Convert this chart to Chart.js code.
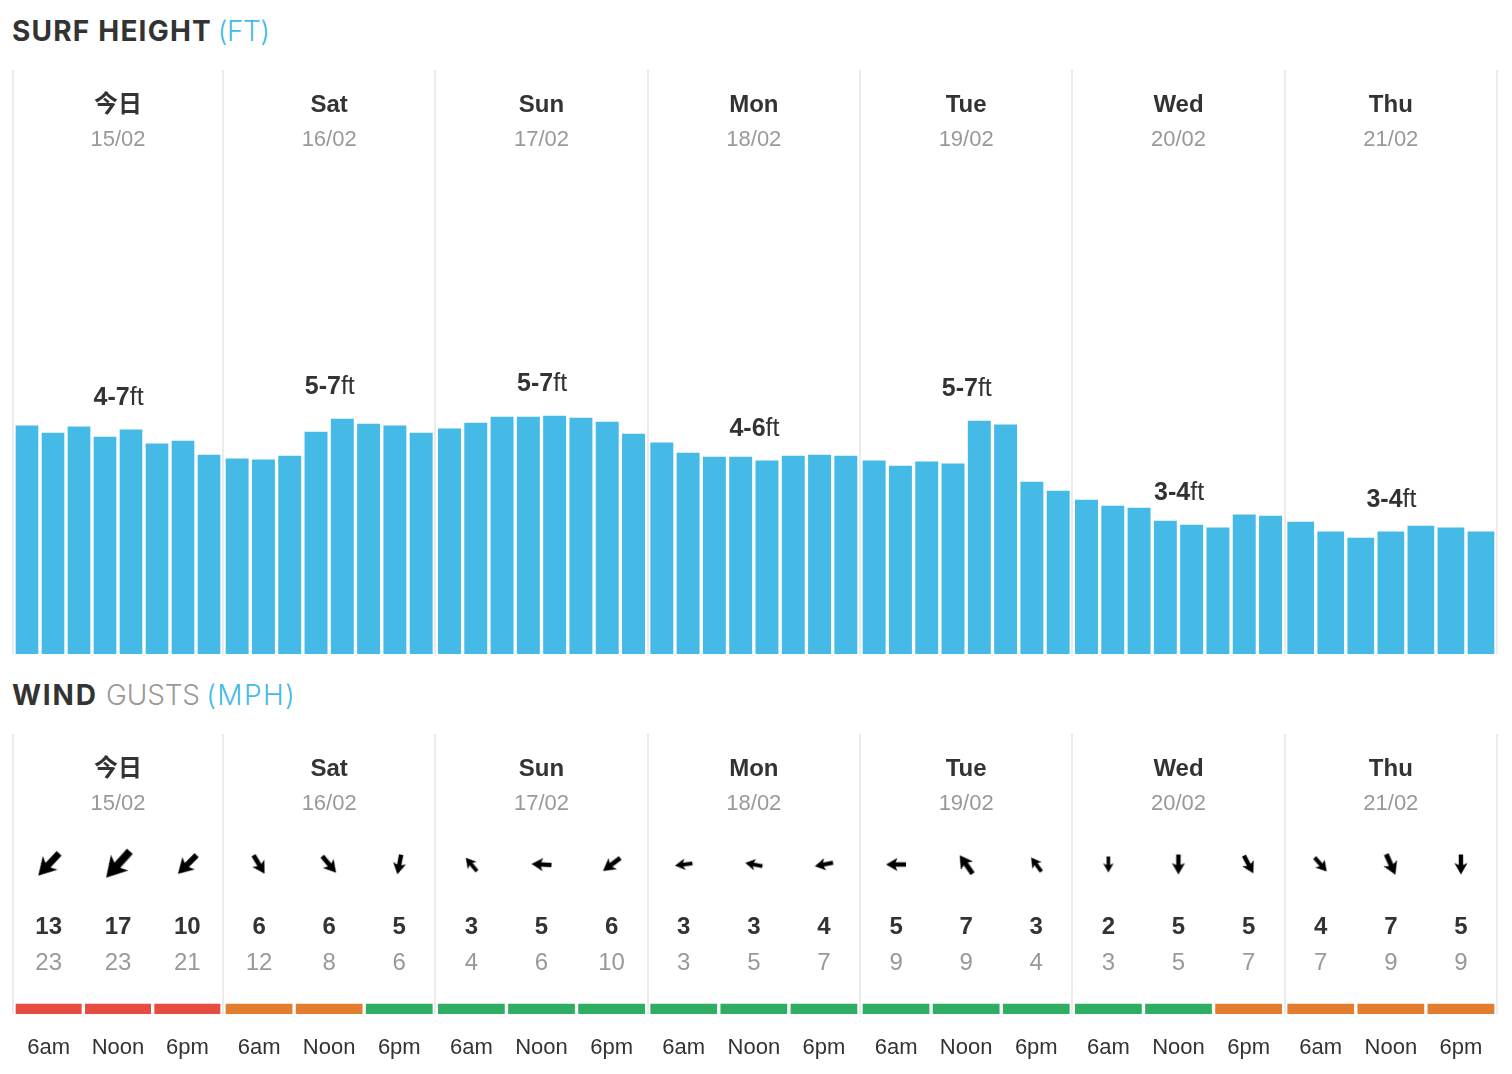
<!DOCTYPE html>
<html>
<head>
<meta charset="utf-8">
<title>Surf forecast</title>
<script src="https://cdn.jsdelivr.net/npm/chart.js@4/dist/chart.umd.min.js"></script>
<style>
    html, body { margin: 0; padding: 0; background: #fff; overflow: hidden; }
    .heading { position: absolute; margin: 0; font: 700 28px/34px Inter, sans-serif; color: #333; white-space: nowrap; letter-spacing: 1.2px; }
    .heading .light { font-weight: 300; color: #999; letter-spacing: -0.2px; }
    .heading .unit { font-weight: 300; color: #45bae6; letter-spacing: -0.5px; margin-left: -2px; }
    #surfHeading { left: 12px; top: 14px; }
    #windHeading { left: 12px; top: 678px; letter-spacing: 1.8px; }
    #windHeading .unit { letter-spacing: 1.4px; margin-left: -2px; }
    canvas { position: absolute; left: 0; }
    #surfChart { top: 70px; }
    #windChart { top: 734px; }
</style>
</head>
<body>
<h2 class="heading" id="surfHeading">SURF HEIGHT <span class="unit">(FT)</span></h2>
<canvas id="surfChart" width="1512" height="585"></canvas>
<h2 class="heading" id="windHeading">WIND <span class="light">GUSTS</span> <span class="unit">(MPH)</span></h2>
<canvas id="windChart" width="1512" height="340"></canvas>

<script>
var dayNames = ['今日', 'Sat', 'Sun', 'Mon', 'Tue', 'Wed', 'Thu'];
var dayDates = ['15/02', '16/02', '17/02', '18/02', '19/02', '20/02', '21/02'];
var surfRanges = ['4-7', '5-7', '5-7', '4-6', '5-7', '3-4', '3-4'];

var surfFri = [6.71, 6.5, 6.68, 6.38, 6.59, 6.18, 6.26, 5.85];
var surfSat = [5.74, 5.71, 5.82, 6.53, 6.91, 6.76, 6.71, 6.5];
var surfSun = [6.62, 6.79, 6.97, 6.97, 7.0, 6.94, 6.82, 6.47];
var surfMon = [6.21, 5.91, 5.79, 5.79, 5.68, 5.82, 5.85, 5.82];
var surfTue = [5.68, 5.53, 5.65, 5.59, 6.85, 6.74, 5.06, 4.79];
var surfWed = [4.53, 4.35, 4.29, 3.91, 3.79, 3.71, 4.09, 4.06];
var surfThu = [3.88, 3.59, 3.41, 3.59, 3.76, 3.71, 3.59];

var slotLabels = ['6am', 'Noon', '6pm'];
var windSpeed = [13, 17, 10, 6, 6, 5, 3, 5, 6, 3, 3, 4, 5, 7, 3, 2, 5, 5, 4, 7, 5];
var windGust = [23, 23, 21, 12, 8, 6, 4, 6, 10, 3, 5, 7, 9, 9, 4, 3, 5, 7, 7, 9, 9];
var windBearing = [223, 222, 225, 149, 140, 191, 320, 273, 233, 263, 281, 259, 270, 325, 324, 180, 180, 152, 139, 156, 180];
var windRating = ['poor', 'poor', 'poor', 'fair', 'fair', 'good', 'good', 'good', 'good', 'good', 'good', 'good',
    'good', 'good', 'good', 'good', 'good', 'fair', 'fair', 'fair', 'fair'];

var ratingColors = { poor: '#e74c43', fair: '#e27d2f', good: '#2fae63' };
var textDark = '#333333';
var textGrey = '#999999';
var barBlue = '#45bae6';
var fontFamily = '"Liberation Sans", "Noto Sans CJK SC", sans-serif';

// the x scale counts days, the first column is a touch narrower than the rest
var firstDayStart = 0.011;
var lastDayEnd = 7;
var dayPx = 1484 / (lastDayEnd - firstDayStart);
var barGapPx = 4;

function dayCentre(day) {
    return (Math.max(day, firstDayStart) + day + 1) / 2;
}

function slotPitch(day, count) {
    return (day + 1 - Math.max(day, firstDayStart) - 2 / dayPx) / count;
}

function slotCentres(day, count) {
    var pitch = slotPitch(day, count);
    var list = [];
    for (var i = 0; i < count; i++) {
        list.push(dayCentre(day) + (i - (count - 1) / 2) * pitch);
    }
    return list;
}

function barWidth(day, count) {
    return slotPitch(day, count) * dayPx - barGapPx;
}

function dayBoundaries() {
    var list = [firstDayStart];
    for (var d = 1; d <= lastDayEnd; d++) list.push(d);
    return list;
}

function xScale(extra) {
    return Object.assign({
        type: 'linear',
        min: firstDayStart,
        max: lastDayEnd,
        offset: false,
        grid: { display: false, offset: false },
        border: { display: false }
    }, extra);
}

// second x axis, only there to draw the column separators
function dayAxis() {
    return {
        axis: 'x',
        type: 'linear',
        position: 'top',
        min: firstDayStart,
        max: lastDayEnd,
        offset: false,
        afterBuildTicks: function(axis) {
            axis.ticks = dayBoundaries().map(function(v) { return { value: v }; });
        },
        ticks: { display: false },
        border: { display: false },
        grid: { color: '#ebebeb', lineWidth: 2, drawTicks: false, offset: false }
    };
}

function drawDayHeaders(chart) {
    var ctx = chart.ctx;
    var x = chart.scales.x;
    var top = chart.chartArea.top;
    ctx.save();
    ctx.textAlign = 'center';
    ctx.textBaseline = 'alphabetic';
    dayNames.forEach(function(name, d) {
        var px = x.getPixelForValue(dayCentre(d));
        ctx.font = 'bold 24px ' + fontFamily;
        ctx.fillStyle = textDark;
        ctx.fillText(name, px, top + 42);
        ctx.font = '22px ' + fontFamily;
        ctx.fillStyle = textGrey;
        ctx.fillText(dayDates[d], px, top + 76);
    });
    ctx.restore();
}

/* surf chart */
var surfByDay = [surfFri, surfSat, surfSun, surfMon, surfTue, surfWed, surfThu];

var surfDatasets = surfByDay.map(function(values, d) {
    var centres = slotCentres(d, values.length);
    return {
        data: values.map(function(v, i) { return { x: centres[i], y: v }; }),
        backgroundColor: barBlue,
        barThickness: barWidth(d, values.length),
        grouped: false
    };
});

var surfLabelsPlugin = {
    id: 'surfLabels',
    afterDatasetsDraw: function(chart) {
        drawDayHeaders(chart);
        var ctx = chart.ctx;
        var x = chart.scales.x;
        var y = chart.scales.y;
        ctx.save();
        ctx.textBaseline = 'alphabetic';
        ctx.fillStyle = textDark;
        surfRanges.forEach(function(range, d) {
            var values = surfByDay[d];
            var anchor = values[Math.floor(values.length / 2)];
            var baseline = y.getPixelForValue(anchor) - 25;
            ctx.font = 'bold 25px ' + fontFamily;
            var w1 = ctx.measureText(range).width;
            var w2 = ctx.measureText('ft').width;
            var start = x.getPixelForValue(dayCentre(d)) + 2 - (w1 + w2) / 2;
            ctx.textAlign = 'left';
            ctx.fillText(range, start, baseline);
            ctx.font = '25px ' + fontFamily;
            ctx.fillText('ft', start + w1, baseline);
        });
        ctx.restore();
    }
};

new Chart(document.getElementById('surfChart'), {
    type: 'bar',
    data: { datasets: surfDatasets },
    options: {
        responsive: false,
        animation: false,
        layout: { padding: { left: 13, right: 15, top: 0, bottom: 1 } },
        plugins: { legend: { display: false }, tooltip: { enabled: false } },
        scales: {
            x: xScale({ display: false }),
            days: dayAxis(),
            y: { display: false, min: 0, max: 584 / 34 }
        }
    },
    plugins: [surfLabelsPlugin]
});

/* wind chart */
// rows of the panel in y-scale units, a strip is one unit tall
var arrowRow = 14.95;
var speedRow = 8;
var gustRow = 4.4;
var stripHeight = 1;

var windCentres = [];
var stripDatasets = dayNames.map(function(name, d) {
    var count = slotLabels.length;
    var centres = slotCentres(d, count);
    var ratings = windRating.slice(windCentres.length, windCentres.length + count);
    windCentres = windCentres.concat(centres);
    return {
        data: centres.map(function(c) { return { x: c, y: stripHeight }; }),
        backgroundColor: ratings.map(function(r) { return ratingColors[r]; }),
        barThickness: barWidth(d, count),
        grouped: false
    };
});

function arrowStyle(speed) {
    var len = 13.5 + 1.3 * speed;
    var size = Math.ceil(len * 1.2) + 2;
    var c = document.createElement('canvas');
    c.width = size;
    c.height = size;
    var g = c.getContext('2d');
    g.translate(size / 2, size / 2);
    g.scale(len, len);
    g.beginPath();
    g.moveTo(0, -0.5);
    g.lineTo(0.33, 0.07);
    g.lineTo(0.11, -0.03);
    g.lineTo(0.11, 0.5);
    g.lineTo(-0.11, 0.5);
    g.lineTo(-0.11, -0.03);
    g.lineTo(-0.33, 0.07);
    g.closePath();
    g.fillStyle = '#000';
    g.fill();
    return c;
}

var arrowStyles = windSpeed.map(arrowStyle);

var windRowsPlugin = {
    id: 'windRows',
    afterDatasetsDraw: function(chart) {
        drawDayHeaders(chart);
        var ctx = chart.ctx;
        var x = chart.scales.x;
        var y = chart.scales.y;
        ctx.save();
        ctx.textAlign = 'center';
        ctx.textBaseline = 'alphabetic';
        windCentres.forEach(function(c, i) {
            var px = x.getPixelForValue(c);
            ctx.font = 'bold 24px ' + fontFamily;
            ctx.fillStyle = textDark;
            ctx.fillText(String(windSpeed[i]), px, y.getPixelForValue(speedRow));
            ctx.font = '24px ' + fontFamily;
            ctx.fillStyle = textGrey;
            ctx.fillText(String(windGust[i]), px, y.getPixelForValue(gustRow));
        });
        ctx.restore();
    }
};

new Chart(document.getElementById('windChart'), {
    type: 'bar',
    data: {
        datasets: stripDatasets.concat([{
            type: 'scatter',
            data: windCentres.map(function(c) { return { x: c, y: arrowRow }; }),
            pointRadius: 10,
            pointStyle: function(ctx) { return arrowStyles[ctx.dataIndex]; },
            rotation: function(ctx) { return windBearing[ctx.dataIndex]; }
        }])
    },
    options: {
        responsive: false,
        animation: false,
        layout: { autoPadding: false, padding: { left: 13, right: 15, top: 0, bottom: 0 } },
        plugins: { legend: { display: false }, tooltip: { enabled: false } },
        scales: {
            x: xScale({
                afterBuildTicks: function(axis) {
                    axis.ticks = windCentres.map(function(v) { return { value: v }; });
                },
                afterFit: function(axis) { axis.height = 60; },
                ticks: {
                    autoSkip: false,
                    maxRotation: 0,
                    minRotation: 0,
                    padding: 13,
                    color: textDark,
                    font: { family: fontFamily, size: 22 },
                    callback: function(value, index) { return slotLabels[index % slotLabels.length]; }
                }
            }),
            days: dayAxis(),
            y: { display: false, min: 0, max: 28 }
        }
    },
    plugins: [windRowsPlugin]
});
</script>
</body>
</html>
